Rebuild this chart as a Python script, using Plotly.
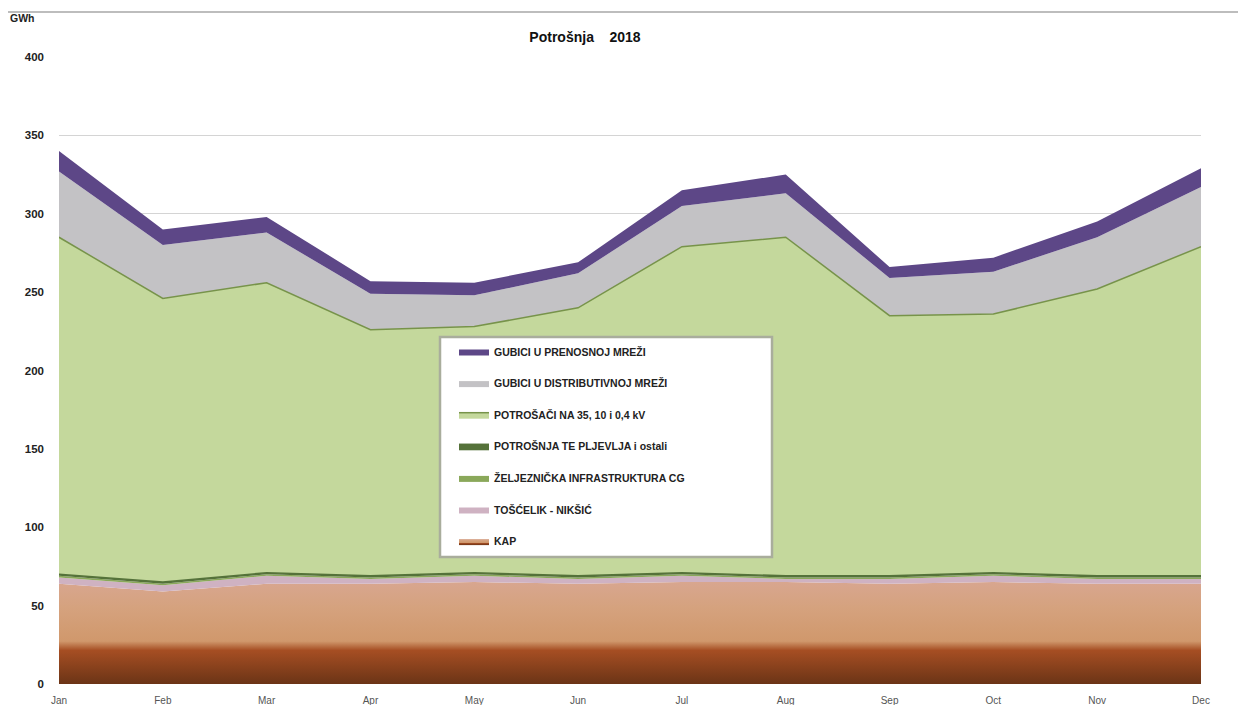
import plotly.graph_objects as go

# Monthly consumption 2018, GWh (stacked areas)
months = ["Jan", "Feb", "Mar", "Apr", "May", "Jun",
          "Jul", "Aug", "Sep", "Oct", "Nov", "Dec"]

kap = [64, 59, 64, 64, 65, 64, 65, 65, 64, 65, 64, 64]
toscelik = [4, 4, 5, 3, 4, 3, 4, 2, 3, 4, 3, 3]
zeljeznicka = [1, 1, 1, 1, 1, 1, 1, 1, 1, 1, 1, 1]
te_pljevlja = [1, 1, 1, 1, 1, 1, 1, 1, 1, 1, 1, 1]
potrosaci = [215, 181, 185, 157, 157, 171, 208, 216, 166, 165, 183, 210]
gubici_distr = [42, 34, 32, 23, 20, 22, 26, 28, 24, 27, 33, 38]
gubici_pren = [13, 10, 10, 8, 8, 7, 10, 12, 7, 9, 10, 12]

series = [
    ("KAP", kap, "#d5a27e", "rgba(0,0,0,0)", 0),
    ("TOŠĆELIK - NIKŠIĆ", toscelik, "#cfb2c2", "rgba(0,0,0,0)", 0),
    ("ŽELJEZNIČKA INFRASTRUKTURA CG", zeljeznicka, "#8aa85a", "rgba(0,0,0,0)", 0),
    ("POTROŠNJA TE PLJEVLJA i ostali", te_pljevlja, "#55723a", "#55723a", 1.5),
    ("POTROŠAČI NA 35, 10 i 0,4 kV", potrosaci, "#c4d89c", "#77934a", 1.5),
    ("GUBICI U DISTRIBUTIVNOJ MREŽI", gubici_distr, "#c3c2c5", "rgba(0,0,0,0)", 0),
    ("GUBICI U PRENOSNOJ MREŽI", gubici_pren, "#5d4787", "rgba(0,0,0,0)", 0),
]

fig = go.Figure()

for i, (name, vals, fcol, lcol, lw) in enumerate(series):
    kw = {}
    if name == "KAP":
        kw["fillgradient"] = dict(
            type="vertical",
            start=0,
            stop=65,
            colorscale=[
                [0.0, "#6b3416"],
                [0.33, "#a64e23"],
                [0.42, "#d0986c"],
                [0.75, "#d5a27e"],
                [1.0, "#d8a68f"],
            ],
        )
    fig.add_trace(go.Scatter(
        x=months,
        y=vals,
        name=name,
        mode="lines",
        stackgroup="one",
        fillcolor=fcol,
        line=dict(color=lcol, width=lw),
        legendgroup="g%d" % i,
        legendrank=100 - i,
        **kw,
    ))

# page body adds an 8px offset, so work in screen pixels minus that
OFF = 8
W, H = 1246 - 2 * OFF, 713 - 2 * OFF
PL, PT = 59 - OFF, 57 - OFF
PR = (OFF + W) - 1201
PB = (OFF + H) - 684
pw = W - PL - PR
ph = H - PT - PB


def px_x(x):
    return (x - OFF - PL) / pw


def px_y(y):
    return (684 - y) / ph


fig.update_layout(
    width=W,
    height=H,
    margin=dict(l=PL, r=PR, t=PT, b=PB),
    paper_bgcolor="white",
    plot_bgcolor="white",
    font=dict(family="Liberation Sans, Arial, sans-serif", color="#222"),
    title=dict(
        text="<b>Potrošnja    2018</b>",
        x=(585 - OFF) / W,
        xanchor="center",
        y=1 - (37 - OFF) / H,
        yanchor="middle",
        font=dict(size=14, color="#111"),
    ),
    showlegend=True,
    legend=dict(
        x=px_x(454),
        y=px_y(337),
        xanchor="left",
        yanchor="top",
        bgcolor="rgba(0,0,0,0)",
        traceorder="grouped",
        tracegroupgap=12.6,
        font=dict(size=10.5, color="#222", weight="bold"),
        itemwidth=30,
    ),
    xaxis=dict(
        range=[0, 11],
        showgrid=False,
        zeroline=False,
        showline=False,
        automargin=False,
        tickfont=dict(size=10, color="#555"),
        ticks="",
        ticklabelstandoff=9,
    ),
    yaxis=dict(
        range=[0, 400],
        dtick=50,
        showgrid=True,
        gridcolor="#d4d4d4",
        gridwidth=1,
        zeroline=False,
        showline=False,
        automargin=False,
        tickfont=dict(size=11.5, color="#222", weight="bold"),
        ticklabelstandoff=14,
    ),
    shapes=[
        # outer chart frame
        dict(type="rect", xref="paper", yref="paper",
             x0=px_x(7), x1=px_x(1300), y0=px_y(760), y1=px_y(12),
             line=dict(color="#a8a8a8", width=1.5), layer="below"),
        # legend box
        dict(type="rect", xref="paper", yref="paper",
             x0=px_x(440), x1=px_x(772), y0=px_y(557), y1=px_y(337),
             fillcolor="white", line=dict(color="#a9ad9c", width=2.5),
             layer="above"),
    ],
    annotations=[
        dict(text="<b>GWh</b>", xref="paper", yref="paper",
             x=px_x(8), y=px_y(18), xanchor="left", yanchor="middle",
             showarrow=False, font=dict(size=10.5, color="#222")),
    ],
)

fig.write_html("out.html")
